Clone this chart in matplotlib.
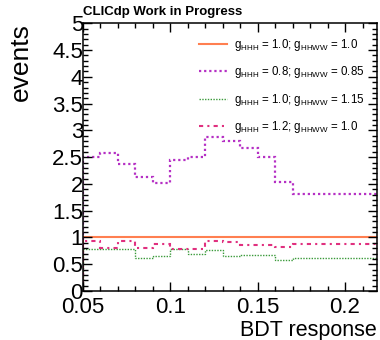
import matplotlib
matplotlib.use("Agg")
import matplotlib.pyplot as plt
import numpy as np
from matplotlib.ticker import MultipleLocator

plt.rcParams['font.family'] = ['Liberation Sans', 'DejaVu Sans']
plt.rcParams['mathtext.default'] = 'regular'

# BDT response binning (bin edges) and yields per bin
bin_edges = np.linspace(0.05, 0.22, 18)
sm_yield = [1.0, 1.0, 1.0, 1.0, 1.0, 1.0, 1.0, 1.0, 1.0, 1.0, 1.0, 1.0, 1.0, 1.0, 1.0, 1.0, 1.0]
hhh08_yield = [2.51, 2.57, 2.37, 2.12, 2.01, 2.44, 2.51, 2.88, 2.80, 2.67, 2.50, 2.04,
               1.81, 1.81, 1.81, 1.81, 1.81]
hhww115_yield = [0.78, 0.78, 0.78, 0.61, 0.66, 0.78, 0.69, 0.77, 0.65, 0.68, 0.68, 0.58,
                 0.61, 0.61, 0.61, 0.61, 0.61]
hhh12_yield = [0.94, 0.81, 0.93, 0.81, 0.88, 0.79, 0.79, 0.94, 0.92, 0.86, 0.86, 0.83,
               0.88, 0.88, 0.88, 0.88, 0.88]

labels = [r"$g_{HHH}$ = 1.0; $g_{HHWW}$ = 1.0",
          r"$g_{HHH}$ = 0.8; $g_{HHWW}$ = 0.85",
          r"$g_{HHH}$ = 1.0; $g_{HHWW}$ = 1.15",
          r"$g_{HHH}$ = 1.2; $g_{HHWW}$ = 1.0"]

fig = plt.figure(figsize=(3.8, 3.4), dpi=100)
ax = fig.add_axes([0.2184, 0.1441, 0.7724, 0.7874])

ax.stairs(sm_yield, bin_edges, color='#ff7f50', lw=1.5, label=labels[0])
ax.stairs(hhh08_yield, bin_edges, color='#b52fc4', lw=1.6,
          linestyle=(0, (1, 1.3)), label=labels[1])
ax.stairs(hhww115_yield, bin_edges, color='#3a9a3a', lw=1.0,
          linestyle=(0, (1, 1)), label=labels[2])
ax.stairs(hhh12_yield, bin_edges, color='#e0307f', lw=1.5,
          linestyle=(0, (2, 2, 1, 2)), label=labels[3])

ax.set_xlim(0.05, 0.218)
ax.set_ylim(0, 5)

ax.xaxis.set_major_locator(MultipleLocator(0.05))
ax.xaxis.set_minor_locator(MultipleLocator(0.01))
ax.yaxis.set_major_locator(MultipleLocator(0.5))
ax.yaxis.set_minor_locator(MultipleLocator(0.1))
ax.xaxis.set_major_formatter(plt.FuncFormatter(lambda v, p: f"{v:g}"))
ax.yaxis.set_major_formatter(plt.FuncFormatter(lambda v, p: f"{v:g}"))

ax.tick_params(which='both', direction='in', top=True, right=True,
               labelsize=16, width=1.0)
ax.tick_params(which='major', length=6.5)
ax.tick_params(which='minor', length=3.4)
ax.tick_params(axis='y', pad=0)
ax.tick_params(axis='x', pad=4)
for sp in ax.spines.values():
    sp.set_linewidth(1.1)

ax.set_ylabel('events', fontsize=19, loc='top')
ax.yaxis.set_label_coords(-0.17, 1.0)
ax.set_xlabel('BDT response', fontsize=15.5, loc='right')
ax.xaxis.set_label_coords(1.0, -0.108)
ax.xaxis.label.set_va('top')

fig.text(0.2184, 0.956, 'CLICdp Work in Progress', fontsize=9.5,
         fontweight='bold', ha='left', va='baseline')

ax.legend(loc='upper left', bbox_to_anchor=(0.395, 0.95), frameon=False,
          fontsize=8.3, handlelength=2.4, handletextpad=0.6,
          labelspacing=1.0, borderpad=0, borderaxespad=0)

fig.savefig('out.png', dpi=100)
